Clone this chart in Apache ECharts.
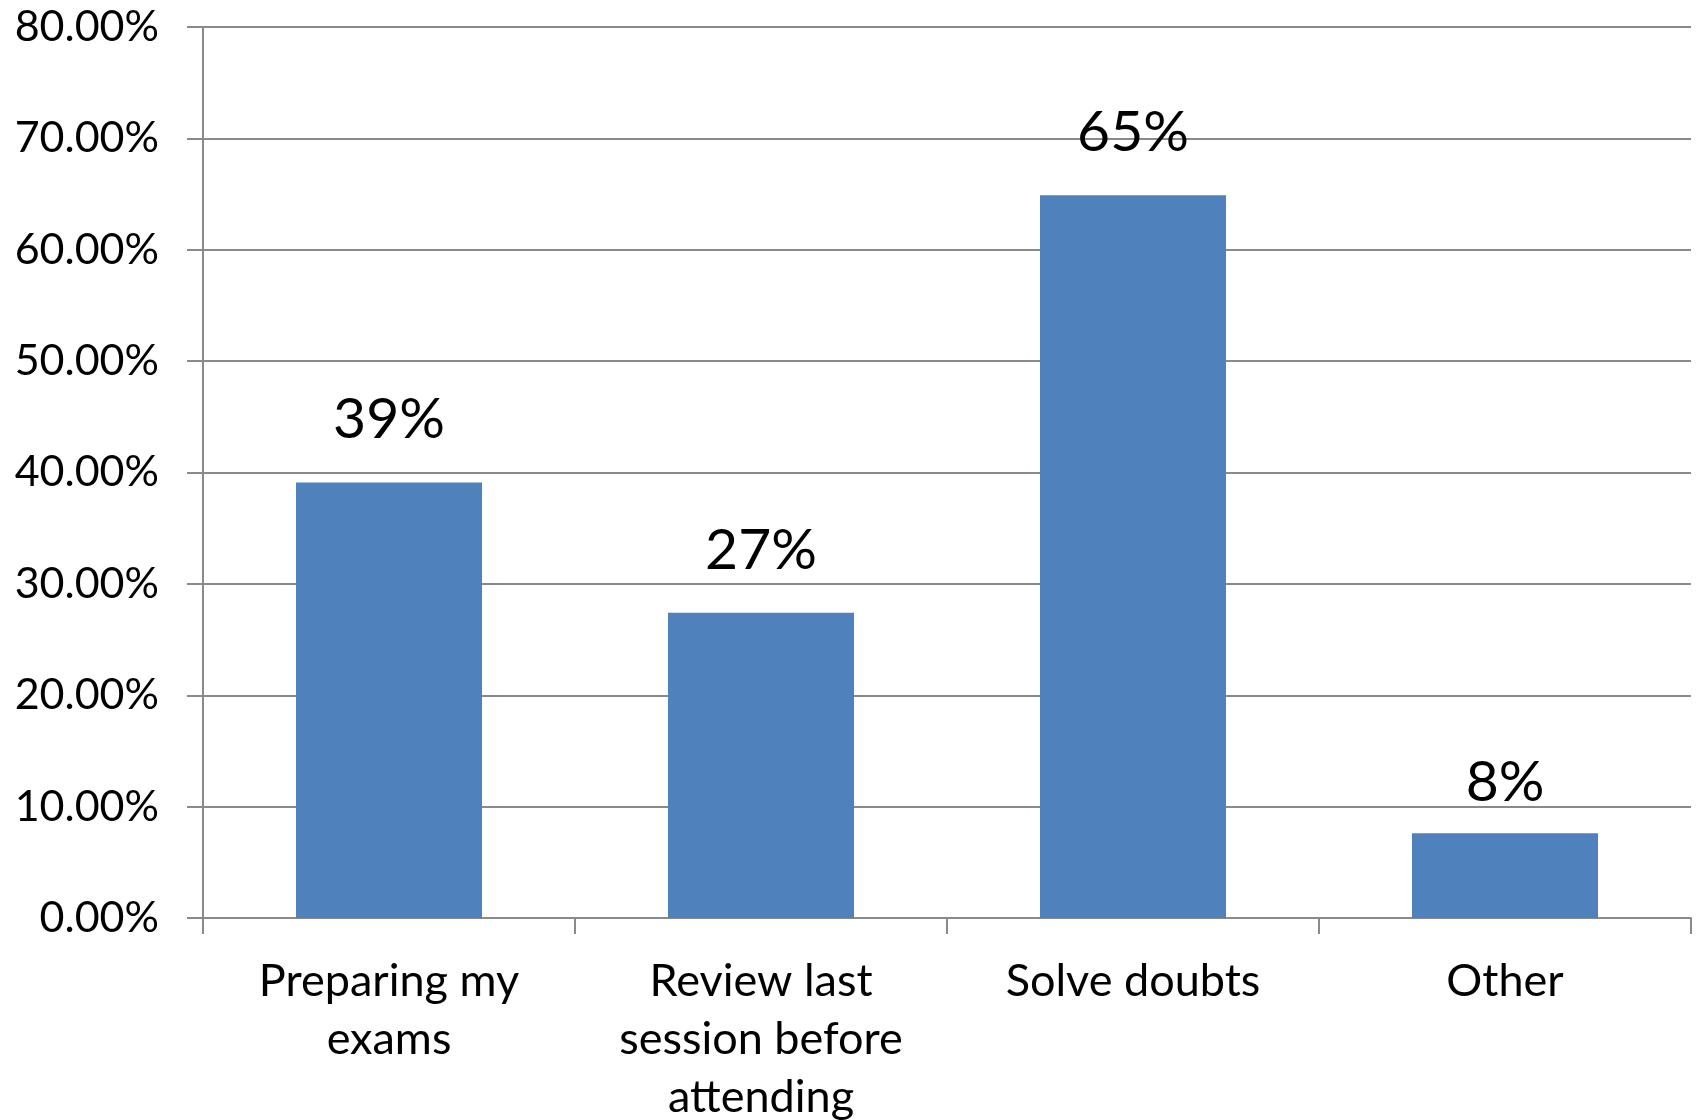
<!DOCTYPE html>
<html><head><meta charset="utf-8">
<script src="https://cdn.jsdelivr.net/npm/echarts@6/dist/echarts.min.js"></script>
<style>html,body{margin:0;padding:0;background:#fff}#c{width:1700px;height:1120px}</style>
</head><body><div id="c"></div>
<script>
var categories = ['Preparing my\nexams', 'Review last\nsession before\nattending', 'Solve doubts', 'Other'];
var values = [0.391, 0.274, 0.649, 0.076];
var valueLabels = ['39%', '27%', '65%', '8%'];
var yTicks = [0, 0.1, 0.2, 0.3, 0.4, 0.5, 0.6, 0.7, 0.8];

var barData = values.map(function (v, i) {
  var d = {value: v};
  if (i === 3) d.label = {distance: 22};
  return d;
});

var chart = echarts.init(document.getElementById('c'));
chart.setOption({
  animation: false,
  grid: {left: 203, right: 9, top: 27, bottom: 202, containLabel: false, outerBoundsMode: 'none'},
  xAxis: {
    type: 'category', data: categories,
    axisLine: {lineStyle: {color: '#8a8a8a', width: 2}},
    axisTick: {show: true, length: 16, lineStyle: {color: '#8a8a8a', width: 2}},
    axisLabel: {color: '#000', fontFamily: 'Lato', fontSize: 45, margin: 34, lineHeight: 58, interval: 0}
  },
  yAxis: {
    type: 'value', min: 0, max: yTicks[yTicks.length - 1], interval: 0.1,
    axisLine: {show: true, lineStyle: {color: '#8a8a8a', width: 2}},
    axisTick: {show: true, length: 16, lineStyle: {color: '#8a8a8a', width: 2}},
    splitLine: {lineStyle: {color: '#8a8a8a', width: 2}},
    axisLabel: {color: '#000', fontFamily: 'Lato', fontSize: 43, margin: 44,
      formatter: function (v) { return (v * 100).toFixed(2) + '%'; }}
  },
  series: [{
    type: 'bar', data: barData, barCategoryGap: '50%',
    itemStyle: {color: '#4F81BD'},
    label: {show: true, position: 'top', distance: 34, color: '#000', fontFamily: 'Lato', fontSize: 57,
      formatter: function (p) { return valueLabels[p.dataIndex]; }}
  }]
});
</script></body></html>
